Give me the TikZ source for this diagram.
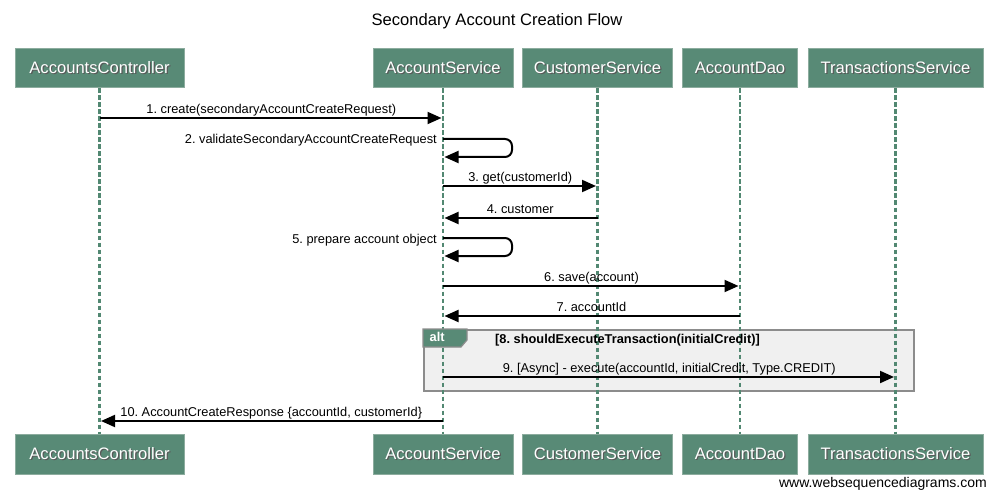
\documentclass[tikz,border=0pt]{standalone}
\usepackage{fontspec}
\setmainfont{Liberation Sans}
\usetikzlibrary{arrows.meta,calc}
\definecolor{boxgreen}{RGB}{88,138,118}
\definecolor{boxedge}{RGB}{140,172,158}
\definecolor{lifegreen}{RGB}{82,136,114}
\definecolor{altfill}{RGB}{240,240,240}
\definecolor{altedge}{RGB}{140,140,140}
\newcommand\shtext[1]{\makebox[0pt][l]{\hspace{1.2pt}\raisebox{-1.2pt}{\textcolor{black!65}{#1}}}#1}
\frenchspacing
\begin{document}
\frenchspacing
\begin{tikzpicture}[x=1pt,y=-1pt,
  actorbox/.style={fill=boxgreen, draw=boxedge, line width=1pt, text=white,
    minimum height=39.5pt, inner sep=0pt, anchor=north,
    font=\fontsize{16.6}{19}\selectfont},
  lifeline/.style={draw=lifegreen, line width=2.6pt, dash pattern=on 4.5pt off 2.5pt},
  msg/.style={draw=black, line width=2pt, -{Triangle[length=14pt,width=12pt]}},
  mlabel/.style={font=\fontsize{12.8}{15}\selectfont, inner sep=0pt, anchor=base},
  selfmsg/.style={msg, rounded corners=7pt},
  ]
\useasboundingbox (0,0) rectangle (998,497);
\fill[white] (0,0) rectangle (998,497);

% title
\node[font=\fontsize{16.6}{19}\selectfont, inner sep=0pt, anchor=base] (title) at (497,26) {Secondary Account Creation Flow};

% alt frame
\node[draw=altedge, fill=altfill, line width=2pt, minimum width=490pt, minimum height=61pt,
  inner sep=0pt, anchor=north west] (alt) at (423,329) {};

% participants top
\node[actorbox, minimum width=169pt] (acT) at (99.5,48) {\shtext{AccountsController}};
\node[actorbox, minimum width=140pt] (asT) at (443,48) {\shtext{AccountService}};
\node[actorbox, minimum width=150pt] (csT) at (597.5,48) {\shtext{CustomerService}};
\node[actorbox, minimum width=115pt] (daT) at (740,48) {\shtext{AccountDao}};
\node[actorbox, minimum width=175pt] (tsT) at (895.5,48) {\shtext{TransactionsService}};
% participants bottom
\node[actorbox, minimum width=169pt] (acB) at (99.5,434) {\shtext{AccountsController}};
\node[actorbox, minimum width=140pt] (asB) at (443,434) {\shtext{AccountService}};
\node[actorbox, minimum width=150pt] (csB) at (597.5,434) {\shtext{CustomerService}};
\node[actorbox, minimum width=115pt] (daB) at (740,434) {\shtext{AccountDao}};
\node[actorbox, minimum width=175pt] (tsB) at (895.5,434) {\shtext{TransactionsService}};

% lifelines
\draw[lifeline] (acT.south) -- (acB.north);
\draw[lifeline] (asT.south) -- (asB.north);
\draw[lifeline] (csT.south) -- (csB.north);
\draw[lifeline] (daT.south) -- (daB.north);
\draw[lifeline] (tsT.south) -- (tsB.north);

% alt tab and condition (over lifelines)
\filldraw[fill=boxgreen, draw=altedge, line width=1.2pt]
  (alt.north west) -- ++(44,0) -- ++(0,11) -- ++(-6,7) -- ++(-38,0) -- cycle;
\node[font=\bfseries\fontsize{12.8}{15}\selectfont, text=white, inner sep=0pt, anchor=base west] (altlbl) at (429.5,341.7) {alt};
\node[font=\bfseries\fontsize{12.8}{15}\selectfont, inner sep=0pt, anchor=base west] (cond) at (495,343) {[8. shouldExecuteTransaction(initialCredit)]};

% rows
\coordinate (r1) at (0,118);
\coordinate (r2a) at (0,139);
\coordinate (r2b) at (0,157);
\coordinate (r3) at (0,186);
\coordinate (r4) at (0,218);
\coordinate (r5a) at (0,238);
\coordinate (r5b) at (0,256);
\coordinate (r6) at (0,286);
\coordinate (r7) at (0,316);
\coordinate (r9) at (0,377);
\coordinate (r10) at (0,421);

% 1
\draw[msg] (acT |- r1) -- ($(asT |- r1)+(-1.5,0)$);
\node[mlabel] (l1) at ($(acT |- r1)!0.5!(asT |- r1)+(0,-4.5)$) {1. create(secondaryAccountCreateRequest)};
% 2
\draw[selfmsg] (asT |- r2a) -- ++(69,0) -- ++(0,18) -- ($(asT |- r2b)+(1.5,0)$);
\node[mlabel, anchor=base east] (l2) at ($(asT |- r2a)+(-6,5)$) {2. validateSecondaryAccountCreateRequest};
% 3
\draw[msg] (asT |- r3) -- ($(csT |- r3)+(-1.5,0)$);
\node[mlabel] (l3) at ($(asT |- r3)!0.5!(csT |- r3)+(0,-4.5)$) {3. get(customerId)};
% 4
\draw[msg] (csT |- r4) -- ($(asT |- r4)+(1.5,0)$);
\node[mlabel] (l4) at ($(asT |- r4)!0.5!(csT |- r4)+(0,-4.5)$) {4. customer};
% 5
\draw[selfmsg] (asT |- r5a) -- ++(69,0) -- ++(0,18) -- ($(asT |- r5b)+(1.5,0)$);
\node[mlabel, anchor=base east] (l5) at ($(asT |- r5a)+(-6,5)$) {5. prepare account object};
% 6
\draw[msg] (asT |- r6) -- ($(daT |- r6)+(-1.5,0)$);
\node[mlabel] (l6) at ($(asT |- r6)!0.5!(daT |- r6)+(0,-4.5)$) {6. save(account)};
% 7
\draw[msg] (daT |- r7) -- ($(asT |- r7)+(1.5,0)$);
\node[mlabel] (l7) at ($(asT |- r7)!0.5!(daT |- r7)+(0,-4.5)$) {7. accountId};
% 9
\draw[msg] (asT |- r9) -- ($(tsT |- r9)+(-1.5,0)$);
\node[mlabel] (l9) at ($(asT |- r9)!0.5!(tsT |- r9)+(0,-4.5)$) {9. [Async] - execute(accountId, initialCredit, Type.CREDIT)};
% 10
\draw[msg] (asT |- r10) -- ($(acT |- r10)+(1.5,0)$);
\node[mlabel] (l10) at ($(acT |- r10)!0.5!(asT |- r10)+(0,-4.5)$) {10. AccountCreateResponse \{accountId, customerId\}};

% watermark
\node[font=\fontsize{14}{16}\selectfont, inner sep=0pt, anchor=base east] (wm) at (987,487) {www.websequencediagrams.com};
\end{tikzpicture}
\end{document}
